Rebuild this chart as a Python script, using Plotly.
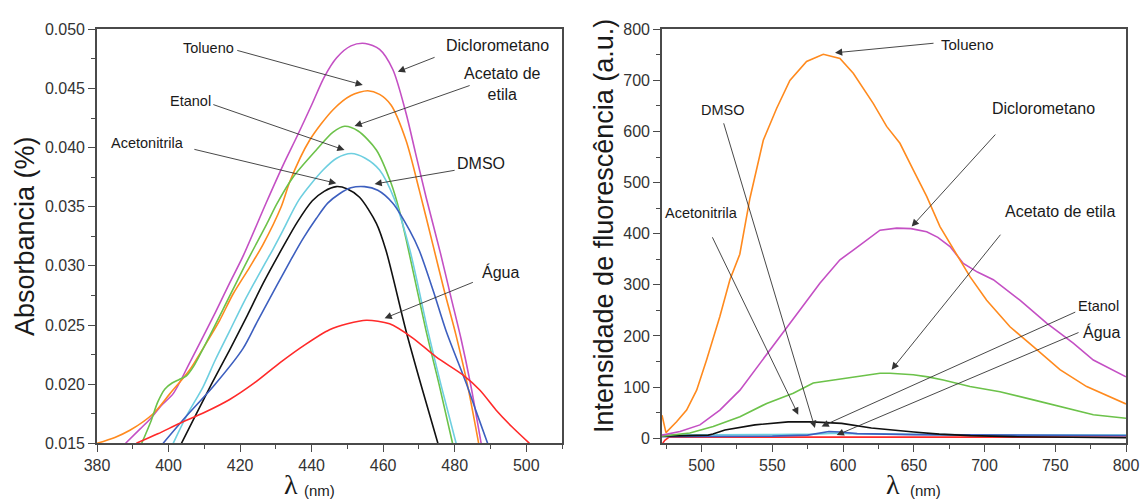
import plotly.graph_objects as go

# ---------------- Left panel: absorbance ----------------
dcm_abs_x = [388, 392, 395, 398, 401.3, 405.9, 412.5, 417, 420.8, 427.4, 432, 436, 440, 443.6, 447, 451, 455, 459, 462.7, 466.4, 469, 472, 476, 479, 481.8, 484.5, 487.4]
dcm_abs_y = [0.015, 0.0162, 0.0171, 0.0182, 0.0192, 0.0218, 0.0257, 0.0285, 0.0308, 0.0354, 0.0385, 0.0410, 0.0436, 0.0460, 0.0476, 0.0486, 0.0488, 0.0483, 0.0466, 0.0429, 0.0396, 0.0358, 0.0311, 0.0273, 0.0238, 0.0199, 0.015]

tol_abs_x = [380, 385, 389.2, 395.7, 400.4, 405.9, 410, 414.3, 418, 422.7, 426.4, 431.5, 434, 439.4, 446, 451, 455.7, 459, 462.2, 466.4, 470.1, 473.9, 477, 480.4, 483.6, 486.7]
tol_abs_y = [0.015, 0.0155, 0.0161, 0.0175, 0.0192, 0.0212, 0.0232, 0.0254, 0.0276, 0.0299, 0.0318, 0.0350, 0.0372, 0.0406, 0.0432, 0.0444, 0.0448, 0.0445, 0.0436, 0.0406, 0.0364, 0.0318, 0.0280, 0.0241, 0.0199, 0.015]

ace_abs_x = [392.5, 395, 397, 399, 401, 403, 405, 407, 410, 415.2, 421.8, 427.4, 430.2, 434.8, 441.3, 446, 449.2, 453, 458.1, 462.2, 464.6, 466.9, 472, 475.7, 479.4]
ace_abs_y = [0.015, 0.0168, 0.0185, 0.0196, 0.0201, 0.0204, 0.0207, 0.0215, 0.0232, 0.0263, 0.0303, 0.0335, 0.0352, 0.0375, 0.0398, 0.0413, 0.0418, 0.0414, 0.0398, 0.0370, 0.0346, 0.0316, 0.0245, 0.0199, 0.015]

eta_abs_x = [401.3, 405, 409.7, 413, 417.1, 421, 426.4, 429.2, 432, 436.5, 443.2, 447, 451.1, 455, 459, 463.2, 467.5, 472.5, 476.2, 480.4]
eta_abs_y = [0.015, 0.0173, 0.0198, 0.0220, 0.0245, 0.0269, 0.0299, 0.0314, 0.0330, 0.0356, 0.0381, 0.0391, 0.0395, 0.0391, 0.0381, 0.0356, 0.0313, 0.0245, 0.0199, 0.015]

acn_abs_x = [403.6, 407.8, 412, 417.1, 422, 426.4, 432, 436, 440.2, 443.5, 446.9, 450, 453.4, 458.1, 460.8, 466.4, 471, 475.3]
acn_abs_y = [0.015, 0.0175, 0.0200, 0.0229, 0.0258, 0.0285, 0.0316, 0.0337, 0.0355, 0.0363, 0.0367, 0.0365, 0.0358, 0.0336, 0.0313, 0.0245, 0.0195, 0.015]

dmso_abs_x = [398.5, 405, 412.5, 420.8, 425, 430.2, 434, 437.6, 441.3, 444.5, 447.8, 451, 454.8, 458.5, 462.7, 467.4, 470.1, 474, 477.6, 483.2, 486, 489.2]
dmso_abs_y = [0.015, 0.0173, 0.0198, 0.0230, 0.0254, 0.0283, 0.0304, 0.0323, 0.0340, 0.0353, 0.0361, 0.0366, 0.0367, 0.0364, 0.0353, 0.0330, 0.0313, 0.0279, 0.0245, 0.0201, 0.0177, 0.015]

agua_abs_x = [391, 397, 403.2, 410, 417.1, 424, 431.1, 438, 445, 450, 455.3, 461.8, 468.3, 474.8, 482.2, 487, 491.6, 496, 500.9]
agua_abs_y = [0.015, 0.0158, 0.0167, 0.0176, 0.0187, 0.0201, 0.0218, 0.0233, 0.0246, 0.0251, 0.0254, 0.0251, 0.0239, 0.0223, 0.0208, 0.0195, 0.0178, 0.0164, 0.015]

# ---------------- Right panel: fluorescence ----------------
tol_fl_x = [472, 474.8, 482.3, 489.4, 496.5, 503.5, 512.9, 520, 527, 534.2, 543.6, 553, 562.4, 574.2, 586, 597.8, 607.2, 616.7, 621.3, 630.8, 640.2, 649.6, 659.1, 668.5, 680.3, 689.7, 701.5, 718, 734.5, 753.3, 772.2, 788.7, 800]
tol_fl_y = [45, 11, 32, 55, 94, 153, 238, 310, 360, 470, 583, 645, 700, 737, 751, 743, 714, 675, 655, 610, 577, 525, 473, 414, 360, 316, 270, 218, 179, 134, 101, 81, 67]

dcm_fl_x = [472, 484.7, 498.8, 512.9, 527.1, 541.2, 555.4, 569.5, 583.6, 597.8, 607.2, 616.7, 626.1, 637.9, 648, 659.1, 667, 675.6, 685, 695, 706.2, 725, 743.9, 762.7, 776.9, 800]
dcm_fl_y = [6, 13, 26, 55, 94, 147, 199, 251, 303, 349, 368, 388, 407, 411, 410, 404, 393, 375, 342, 325, 310, 270, 225, 186, 153, 120]

ace_fl_x = [472, 491.7, 508.2, 527.1, 546, 564.8, 578.9, 593.1, 611.9, 626.1, 633.1, 649.6, 660, 670.8, 689.7, 710.9, 734.5, 758.1, 776.9, 800]
ace_fl_y = [4, 10, 23, 42, 68, 88, 108, 114, 122, 127, 127, 124, 120, 114, 101, 91, 75, 59, 46, 39]

acn_fl_x = [472, 490, 504.7, 508, 516.5, 537.7, 561.2, 577.8, 599, 620, 637, 650, 668, 690, 720, 760, 800]
acn_fl_y = [4, 5, 6, 8, 16, 26, 32, 32, 29, 20, 15, 12, 8, 5, 3, 2, 1]

dmso_fl_x = [472, 500, 550, 575, 583, 590, 598, 610, 650, 700, 800]
dmso_fl_y = [3, 3, 4, 6, 10, 13, 12, 9, 7, 6, 5]

eta_fl_x = [472, 500, 550, 580, 595, 605, 650, 700, 800]
eta_fl_y = [6, 6, 7, 8, 10, 9, 7, 6, 6]

agua_fl_x = [472, 474, 477, 485, 500, 550, 600, 650, 700, 800]
agua_fl_y = [-12, -4, 2, 2, 2, 2, 3, 3, 2, 2]

C_DCM = "#C450C4"
C_TOL = "#FF8A1E"
C_ACE = "#6CC24A"
C_ETA = "#6ECFE0"
C_ACN = "#111111"
C_DMSO = "#3D5FBF"
C_AGUA = "#FF2A2A"

fig = go.Figure()

left_series = [
    (dcm_abs_x, dcm_abs_y, C_DCM, "Diclorometano"),
    (tol_abs_x, tol_abs_y, C_TOL, "Tolueno"),
    (ace_abs_x, ace_abs_y, C_ACE, "Acetato de etila"),
    (eta_abs_x, eta_abs_y, C_ETA, "Etanol"),
    (acn_abs_x, acn_abs_y, C_ACN, "Acetonitrila"),
    (dmso_abs_x, dmso_abs_y, C_DMSO, "DMSO"),
    (agua_abs_x, agua_abs_y, C_AGUA, "Água"),
]
for xs, ys, c, n in left_series:
    fig.add_trace(go.Scatter(x=xs, y=ys, mode="lines", name=n,
                             line=dict(color=c, width=1.6, shape="spline", smoothing=0.8),
                             xaxis="x", yaxis="y", showlegend=False))

right_series = [
    (agua_fl_x, agua_fl_y, C_AGUA, "Água"),
    (eta_fl_x, eta_fl_y, C_ETA, "Etanol"),
    (dmso_fl_x, dmso_fl_y, C_DMSO, "DMSO"),
    (acn_fl_x, acn_fl_y, C_ACN, "Acetonitrila"),
    (ace_fl_x, ace_fl_y, C_ACE, "Acetato de etila"),
    (dcm_fl_x, dcm_fl_y, C_DCM, "Diclorometano"),
    (tol_fl_x, tol_fl_y, C_TOL, "Tolueno"),
]
for xs, ys, c, n in right_series:
    fig.add_trace(go.Scatter(x=xs, y=ys, mode="lines", name=n,
                             line=dict(color=c, width=1.6),
                             xaxis="x2", yaxis="y2", showlegend=False))

FONT = "Liberation Sans, Arial, sans-serif"
TXT = "#1a1a1a"
AX = "#4a4a4a"

left_labels = [
    ("Tolueno", 411.3, 0.04843, 14.5),
    ("Etanol", 406.0, 0.04394, 14.5),
    ("Acetonitrila", 394.2, 0.04039, 14.5),
    ("Diclorometano", 491.9, 0.04863, 16),
    ("Acetato de<br>etila", 493.3, 0.04537, 16),
    ("DMSO", 487.4, 0.03867, 16),
    ("Água", 492.9, 0.02951, 16),
]
left_arrows = [  # tail x, tail y, tip x, tip y
    (418.8, 0.04825, 454.3, 0.04529),
    (412.1, 0.04368, 449.2, 0.03979),
    (406.8, 0.03988, 446.9, 0.03698),
    (474.8, 0.04768, 464.1, 0.04641),
    (484.6, 0.04529, 452.0, 0.04182),
    (480.4, 0.03810, 457.6, 0.03692),
    (485.5, 0.02866, 460.4, 0.02557),
]
right_labels = [
    ("Tolueno", 688.3, 771, 15),
    ("DMSO", 515.3, 643, 14.5),
    ("Acetonitrila", 500.0, 440, 14.5),
    ("Diclorometano", 741.5, 645, 16),
    ("Acetato de etila", 753.3, 443, 16),
    ("Etanol", 780.4, 259, 14.5),
    ("Água", 782.8, 208, 16),
]
right_arrows = [
    (665.0, 773, 594.3, 754),
    (515.3, 619, 580.1, 20),
    (507.1, 396, 568.3, 46),
    (708.6, 597, 648.5, 414),
    (712.1, 401, 634.3, 134),
    (765.2, 248, 584.8, 23),
    (767.5, 208, 595.5, 6),
]

annotations = []
for t, x, y, s in left_labels:
    annotations.append(dict(text=t, x=x, y=y, xref="x", yref="y", showarrow=False,
                            font=dict(family=FONT, size=s, color=TXT)))
for t, x, y, s in right_labels:
    annotations.append(dict(text=t, x=x, y=y, xref="x2", yref="y2", showarrow=False,
                            font=dict(family=FONT, size=s, color=TXT)))
for ax_, ay_, x, y in left_arrows:
    annotations.append(dict(text="", x=x, y=y, ax=ax_, ay=ay_, xref="x", yref="y",
                            axref="x", ayref="y", showarrow=True, arrowhead=2,
                            arrowsize=1.6, arrowwidth=0.9, arrowcolor="#333333"))
for ax_, ay_, x, y in right_arrows:
    annotations.append(dict(text="", x=x, y=y, ax=ax_, ay=ay_, xref="x2", yref="y2",
                            axref="x2", ayref="y2", showarrow=True, arrowhead=2,
                            arrowsize=1.6, arrowwidth=0.9, arrowcolor="#333333"))

W, H = 1142, 502

def paper_text(text, px, py, size, family=FONT, angle=0):
    return dict(text=text, x=px / W, y=1 - py / H, xref="paper", yref="paper",
                xanchor="center", yanchor="middle", showarrow=False, textangle=angle,
                font=dict(family=family, size=size, color=TXT))

annotations += [
    paper_text("Absorbancia (%)", 25, 236, 27, angle=-90),
    paper_text("Intensidade de fluorescência (a.u.)", 604, 226, 27, angle=-90),
    paper_text("λ", 291, 484, 28, family="Liberation Serif, serif"),
    paper_text("(nm)", 319, 490, 15),
    paper_text("λ", 893, 484, 28, family="Liberation Serif, serif"),
    paper_text("(nm)", 925, 490, 15),
]

y_dom = [1 - 443.3 / H, 1 - 29.3 / H]

common = dict(showgrid=False, zeroline=False, showline=True, linecolor=AX, linewidth=1.6,
              mirror=True, ticks="outside", ticklen=7, tickwidth=1.4, tickcolor=AX,
              automargin=False,
              tickfont=dict(family=FONT, size=16, color="#333333"))

fig.update_layout(
    width=W, height=H,
    margin=dict(l=0, r=0, t=0, b=0, pad=0, autoexpand=False),
    paper_bgcolor="white", plot_bgcolor="white",
    showlegend=False,
    xaxis=dict(domain=[97 / W, 562 / W], range=[380, 510], dtick=20, tick0=380,
               minor=dict(ticks="outside", dtick=10, ticklen=4, tickwidth=1.2, tickcolor=AX),
               anchor="y", **common),
    yaxis=dict(domain=y_dom, range=[0.015, 0.050], dtick=0.005, tick0=0.015, tickformat=".3f",
               minor=dict(ticks="outside", dtick=0.0025, ticklen=4, tickwidth=1.2, tickcolor=AX),
               anchor="x", **common),
    xaxis2=dict(domain=[662 / W, 1126 / W], range=[472, 800], dtick=50, tick0=500,
                minor=dict(ticks="outside", dtick=25, ticklen=4, tickwidth=1.2, tickcolor=AX),
                anchor="y2", **common),
    yaxis2=dict(domain=y_dom, range=[-10, 800], dtick=100, tick0=0,
                minor=dict(ticks="outside", dtick=50, ticklen=4, tickwidth=1.2, tickcolor=AX),
                anchor="x2", **common),
    annotations=annotations,
)

fig.write_html("out.html")
